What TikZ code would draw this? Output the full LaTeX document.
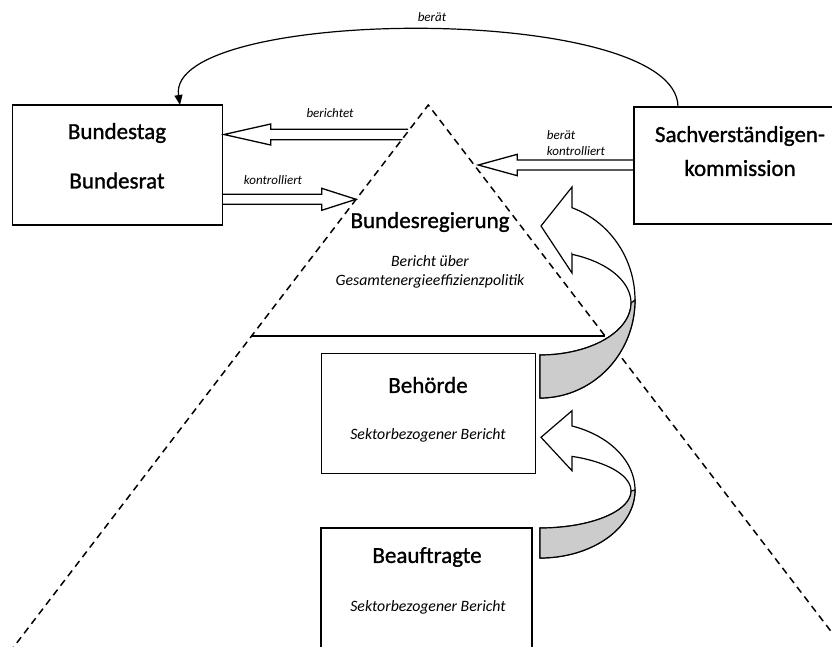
\documentclass[tikz,border=0pt]{standalone}
\usepackage{fontspec}
\setmainfont{Carlito}
\newfontfamily\titlefont{Carlito}[FakeBold=1.1]
\usetikzlibrary{arrows.meta}
\begin{document}
\begin{tikzpicture}[x=1pt,y=-1pt,
  box/.style={draw,line width=1.6pt,inner sep=0pt},
  ttl/.style={font=\titlefont\fontsize{23}{26}\selectfont, inner sep=0pt},
  sub/.style={font=\itshape\fontsize{15.8}{19}\selectfont, inner sep=0pt, align=center},
  lbl/.style={font=\itshape\fontsize{13}{16}\selectfont, inner sep=0pt},
  dline/.style={dash pattern=on 7pt off 5pt, line width=1.5pt},
  hollow/.style={draw, line width=1.3pt, line join=miter},
  curv/.style={draw, line width=1.2pt, line join=miter},
  ]
\useasboundingbox (0,0) rectangle (832,646);
\clip (0,0) rectangle (832,646);

% triangle
\coordinate (apex) at (428.3,105);
\coordinate (tl) at (-26.9,700);
\coordinate (tr) at (883.5,700);
\coordinate (hl) at (252,336);
\coordinate (hr) at (605,336);
\draw[dline] (tl) -- (apex) -- (tr);
\draw[line width=1.4pt] (hl) -- (hr);

% boxes
\node[box, minimum width=210pt, minimum height=120pt] (bt) at (117.5,165) {};
\node[box, minimum width=204pt, minimum height=117pt] (sk) at (736,165.5) {};
\node[box, minimum width=214pt, minimum height=120pt] (bh) at (428.5,413.5) {};
\node[box, minimum width=211pt, minimum height=144pt] (ba) at (426.5,600) {};

% texts
\node[ttl] (t1) at (117,133) {Bundestag};
\node[ttl] (t2) at (117,180.5) {Bundesrat};
\node[ttl] (t3) at (740,136) {Sachverständigen-};
\node[ttl] (t4) at (740,168) {kommission};
\node[ttl] (t5) at (430,222) {Bundesregierung};
\node[sub] (s5) at (430,272) {Bericht über\\Gesamtenergieeffizienzpolitik};
\node[ttl] (t6) at (428,385) {Behörde};
\node[sub] (s6) at (428,435) {Sektorbezogener Bericht};
\node[ttl] (t7) at (427,557) {Beauftragte};
\node[sub] (s7) at (428,607) {Sektorbezogener Bericht};

% labels
\node[lbl] (l1) at (432,17) {berät};
\node[lbl] (l2) at (330,113) {berichtet};
\node[lbl] (l3) at (273,180) {kontrolliert};
\node[lbl, anchor=west] (l4) at (546.7,135) {berät};
\node[lbl, anchor=west] (l5) at (546.7,151) {kontrolliert};

% berät curve
\coordinate (bs) at (678,107);
\coordinate (be) at (180,105);
\draw[line width=1.2pt, -{Triangle[length=10pt,width=8pt]}] (bs) .. controls (678,2) and (165,6) .. (be);

% hollow arrows
\draw[hollow] (408,129.2) -- (270.7,129.2) -- (270.7,124) -- (224,134.5) -- (270.7,145) -- (270.7,139.8) -- (402.4,139.8);
\draw[hollow] (222,194.3) -- (321.7,194.3) -- (321.7,188.3) -- (356,199.3) -- (321.7,210.3) -- (321.7,204.3) -- (222,204.3);
\draw[hollow] (634,160) -- (517.3,160) -- (517.3,154.3) -- (478.3,165) -- (517.3,175.7) -- (517.3,170) -- (634,170);

% curved arrow upper
\draw[curv] plot[domain=90:-70.3, samples=60] ({540+95*cos(\x)},{300+98*sin(\x)})
  -- (572,187) -- (541,226) -- (572,273) -- (572,254.3)
  -- plot[domain=-69.4:90, samples=60] ({540+91*cos(\x)},{303+52*sin(\x)}) -- cycle;
\filldraw[curv, fill=black!20] plot[domain=0:90, samples=40] ({540+91*cos(\x)},{303+52*sin(\x)})
  -- plot[domain=90:0, samples=40] ({540+95*cos(\x)},{300+98*sin(\x)}) -- cycle;

% curved arrow lower
\draw[curv] plot[domain=90:-70.3, samples=60] ({540+95*cos(\x)},{490+68*sin(\x)})
  -- (572,410.7) -- (541,437.3) -- (572,470.7) -- (572,456.4)
  -- plot[domain=-69.4:90, samples=60] ({540+91*cos(\x)},{491+37*sin(\x)}) -- cycle;
\filldraw[curv, fill=black!20] plot[domain=0:90, samples=40] ({540+91*cos(\x)},{491+37*sin(\x)})
  -- plot[domain=90:0, samples=40] ({540+95*cos(\x)},{490+68*sin(\x)}) -- cycle;
\end{tikzpicture}
\end{document}
